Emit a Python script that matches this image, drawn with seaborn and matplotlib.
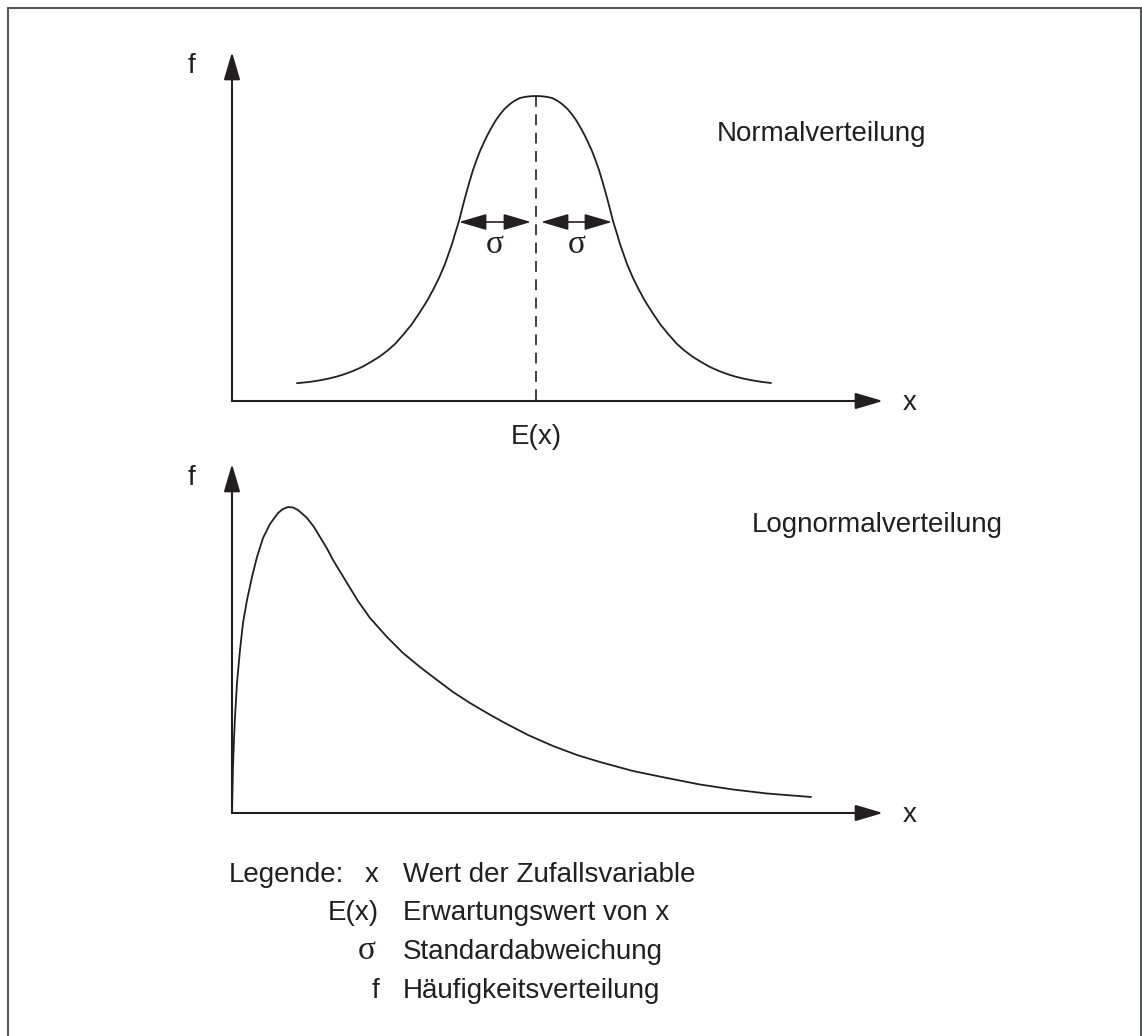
import matplotlib
matplotlib.use("Agg")
import matplotlib.pyplot as plt
import seaborn as sns
import numpy as np

# ---------------- data (in panel units) ----------------
normal_x = [65, 77, 88, 97, 105, 113, 121, 130, 138, 147, 155, 163, 171, 180, 188,
            195, 201, 207, 213, 216.5, 220, 223.5, 227, 230.5, 234, 237.5, 241,
            244.5, 248, 252, 256, 260, 264, 268, 272, 276, 280, 284, 288, 292, 296,
            300, 304,
            308, 312, 316, 320, 324, 328, 332, 336, 340, 344, 348, 352, 356, 360,
            363.5, 367, 370.5, 374, 377.5, 381, 384.5, 388, 391.5, 395, 401, 407,
            413, 420, 428, 437, 445, 453, 461, 470, 478, 487, 495, 503, 511, 520,
            529, 539]
normal_y = [17.8, 19, 20.7, 22.5, 24.5, 27, 30, 34, 38.5, 44, 50, 57, 66, 77, 89,
            100, 111, 123, 137, 147, 157, 168.8, 180, 193.8, 207, 219.3, 231,
            240.8, 250, 258.8, 267, 274.3, 281, 286.5, 291.5, 295.3, 298.5, 301,
            303, 303.9, 304.5, 304.85, 305,
            304.85, 304.5, 303.9, 303, 301, 298.5, 295.3, 291.5, 286.5, 281, 274.3,
            267, 258.8, 250, 240.8, 231, 219.3, 207, 193.8, 180, 168.8, 157, 147,
            137, 123, 111, 100, 89, 77, 66, 57, 50, 44, 38.5, 34, 30, 27, 24.5,
            22.5, 20.7, 19.2, 18]

lognormal_x = [0, 1, 2, 3, 5, 8, 11, 15, 20, 25, 31, 38, 46, 51, 56, 61, 66, 70, 75,
               82, 88, 95, 101, 108, 115, 126, 138, 155, 171, 188, 205, 221, 238,
               255, 271, 296, 321, 345, 368, 401, 435, 468, 501, 535, 579]
lognormal_y = [0, 46, 74, 96, 130, 163, 190, 213, 236, 256, 275, 289, 300, 304, 306,
               305.5, 303, 299.5, 295, 286, 276, 264.5, 253, 241.5, 230, 212, 195,
               176, 160, 146, 133, 121, 110, 100, 91, 78, 67, 58, 51, 42, 35, 28.5,
               23.5, 19.5, 16]

sigma_level = 179
sigma_spans = [(227, 299), (309, 380)]

panel_titles = ["Normalverteilung", "Lognormalverteilung"]
legend_keys = ["x", "E(x)", "\u03c3", "f"]
legend_texts = ["Wert der Zufallsvariable", "Erwartungswert von x",
                "Standardabweichung", "H\u00e4ufigkeitsverteilung"]

# ---------------- styling ----------------
W, H = 1142, 1036
INK = "#231f20"
sns.set_style("white")
plt.rcParams["font.family"] = ["Liberation Sans", "DejaVu Sans"]
SANS = ["Liberation Sans", "DejaVu Sans"]
SERIF = ["Liberation Serif", "DejaVu Serif"]
FS = 20
FS_SIG = 24

fig = plt.figure(figsize=(W / 100, H / 100), dpi=100)
fig.patch.set_facecolor("white")

# background layer (pixel coordinates) for frame and texts
bg = fig.add_axes([0, 0, 1, 1])
bg.set_xlim(0, W)
bg.set_ylim(H, 0)
bg.axis("off")
bg.plot([8, 8, 1140.5, 1140.5], [H, 8, 8, H], color="#58595b", lw=1.5,
        solid_joinstyle="miter", clip_on=False)

PW, PH = 651, 349


def make_panel(origin_y):
    ax = fig.add_axes([232 / W, (H - origin_y) / H, PW / W, PH / H])
    ax.set_xlim(0, PW)
    ax.set_ylim(0, PH)
    ax.axis("off")
    ax.patch.set_alpha(0)
    ap = dict(arrowstyle="-|>,head_length=17,head_width=5", mutation_scale=1,
              lw=1.5, color=INK, shrinkA=0, shrinkB=0)
    ax.annotate("", xy=(PW, 0), xytext=(0, 0), arrowprops=ap, annotation_clip=False)
    ax.annotate("", xy=(0, PH), xytext=(0, 0), arrowprops=ap, annotation_clip=False)
    return ax


ax1 = make_panel(401)
ax2 = make_panel(813)

sns.lineplot(x=normal_x, y=normal_y, ax=ax1, color=INK, lw=1.3, sort=False,
             estimator=None)
sns.lineplot(x=lognormal_x, y=lognormal_y, ax=ax2, color=INK, lw=1.3, sort=False,
             estimator=None)
for ax in (ax1, ax2):
    for ln in ax.lines:
        ln.set_clip_on(False)
        ln.set_solid_joinstyle("round")

# expectation value (dashed) through the peak
ipk = int(np.argmax(normal_y))
ax1.plot([normal_x[ipk], normal_x[ipk]], [normal_y[ipk], 0], color=INK, lw=1.2,
         ls=(0, (6.5, 4.5)), clip_on=False)

# sigma arrows
sap = dict(arrowstyle="<|-|>,head_length=17,head_width=5", mutation_scale=1,
           lw=1.2, color=INK, shrinkA=0, shrinkB=0)
for a, b in sigma_spans:
    ax1.annotate("", xy=(b, sigma_level), xytext=(a, sigma_level), arrowprops=sap,
                 annotation_clip=False)
    bg.text(232 + (a + b) / 2, 253, "\u03c3", family=SERIF, fontsize=FS_SIG,
            ha="center", va="baseline", color=INK)

# axis labels
for oy in (401, 813):
    bg.text(192, oy - 328, "f", family=SANS, fontsize=FS, ha="center",
            va="baseline", color=INK)
    bg.text(910, oy + 9, "x", family=SANS, fontsize=FS, ha="center",
            va="baseline", color=INK)
bg.text(232 + normal_x[ipk], 444, "E(x)", family=SANS, fontsize=FS, ha="center",
        va="baseline", color=INK)

# panel titles
bg.text(717, 141, panel_titles[0], family=SANS, fontsize=FS, ha="left",
        va="baseline", color=INK)
bg.text(752, 532, panel_titles[1], family=SANS, fontsize=FS, ha="left",
        va="baseline", color=INK)

# legend
bg.text(229, 882, "Legende:", family=SANS, fontsize=FS, ha="left",
        va="baseline", color=INK)
for i, (k, t) in enumerate(zip(legend_keys, legend_texts)):
    yb = 882 + i * 38.5
    is_sig = k == "\u03c3"
    bg.text(379 if not is_sig else 376, yb, k, family=SERIF if is_sig else SANS,
            fontsize=FS_SIG if is_sig else FS, ha="right", va="baseline", color=INK)
    bg.text(403, yb, t, family=SANS, fontsize=FS, ha="left", va="baseline",
            color=INK)

fig.savefig("out.png", dpi=100, facecolor="white")
